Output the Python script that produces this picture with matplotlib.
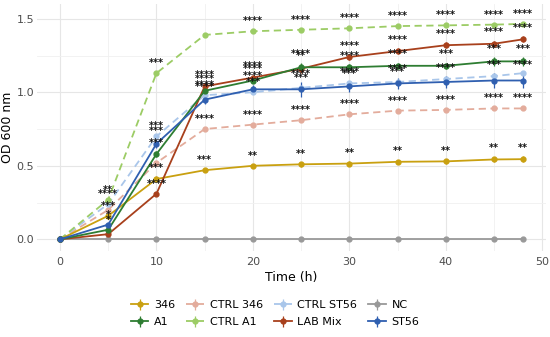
import matplotlib
matplotlib.use("Agg")
import matplotlib.pyplot as plt
import numpy as np

time = [0, 5, 10, 15, 20, 25, 30, 35, 40, 45, 48]

series_names = ["346", "A1", "CTRL 346", "CTRL A1", "CTRL ST56", "LAB Mix", "NC", "ST56"]

v_346 = [0.0, 0.16, 0.41, 0.47, 0.50, 0.51, 0.515, 0.527, 0.53, 0.543, 0.545]
v_A1 = [0.0, 0.065, 0.58, 1.01, 1.08, 1.17, 1.17, 1.18, 1.18, 1.21, 1.21]
v_ctrl346 = [0.0, 0.20, 0.52, 0.75, 0.78, 0.81, 0.85, 0.875, 0.88, 0.89, 0.89]
v_ctrlA1 = [0.0, 0.27, 1.13, 1.39, 1.415, 1.425, 1.435, 1.45, 1.455, 1.46, 1.465]
v_ctrlST56 = [0.0, 0.24, 0.70, 0.98, 1.00, 1.03, 1.06, 1.07, 1.09, 1.11, 1.13]
v_LAB = [0.0, 0.035, 0.31, 1.04, 1.10, 1.16, 1.24, 1.28, 1.32, 1.33, 1.36]
v_NC = [0.0] * 11
v_ST56 = [0.0, 0.10, 0.65, 0.95, 1.02, 1.02, 1.04, 1.06, 1.07, 1.08, 1.08]

e_346 = [0.0, 0.01, 0.02, 0.01, 0.01, 0.015, 0.015, 0.015, 0.015, 0.02, 0.02]
e_A1 = [0.0, 0.01, 0.02, 0.02, 0.02, 0.03, 0.02, 0.02, 0.02, 0.03, 0.03]
e_ctrl346 = [0.0, 0.01, 0.01, 0.01, 0.01, 0.01, 0.01, 0.01, 0.01, 0.01, 0.01]
e_ctrlA1 = [0.0, 0.01, 0.01, 0.01, 0.01, 0.01, 0.01, 0.01, 0.01, 0.01, 0.01]
e_ctrlST56 = [0.0, 0.01, 0.01, 0.01, 0.01, 0.01, 0.01, 0.01, 0.01, 0.01, 0.01]
e_LAB = [0.0, 0.01, 0.01, 0.02, 0.02, 0.03, 0.02, 0.02, 0.02, 0.02, 0.02]
e_NC = [0.0] * 11
e_ST56 = [0.0, 0.01, 0.03, 0.03, 0.03, 0.05, 0.04, 0.04, 0.04, 0.05, 0.05]

s_346 = ["", "***", "***", "***", "**", "**", "**", "**", "**", "**", "**"]
s_A1 = ["", "*", "***", "****", "****", "****", "****", "****", "***", "***", "***"]
s_ctrl346 = ["", "", "", "****", "****", "****", "****", "****", "****", "****", "****"]
s_ctrlA1 = ["", "**", "***", "", "****", "****", "****", "****", "****", "****", "****"]
s_ctrlST56 = ["", "****", "***", "****", "***", "***", "***", "***", "", "", ""]
s_LAB = ["", "", "****", "****", "****", "**", "****", "****", "****", "****", "****"]
s_NC = [""] * 11
s_ST56 = ["", "*", "***", "****", "****", "****", "****", "****", "****", "***", "****"]

values = {"346": v_346, "A1": v_A1, "CTRL 346": v_ctrl346, "CTRL A1": v_ctrlA1,
          "CTRL ST56": v_ctrlST56, "LAB Mix": v_LAB, "NC": v_NC, "ST56": v_ST56}
errors = {"346": e_346, "A1": e_A1, "CTRL 346": e_ctrl346, "CTRL A1": e_ctrlA1,
          "CTRL ST56": e_ctrlST56, "LAB Mix": e_LAB, "NC": e_NC, "ST56": e_ST56}
stars = {"346": s_346, "A1": s_A1, "CTRL 346": s_ctrl346, "CTRL A1": s_ctrlA1,
         "CTRL ST56": s_ctrlST56, "LAB Mix": s_LAB, "NC": s_NC, "ST56": s_ST56}
colors = {"346": "#C9A010", "A1": "#2E7D32", "CTRL 346": "#E3AC9C", "CTRL A1": "#9CCC65",
          "CTRL ST56": "#A9C6EA", "LAB Mix": "#A8401C", "NC": "#999999", "ST56": "#2F5FB0"}
dashed = {"CTRL 346", "CTRL A1", "CTRL ST56"}

fig = plt.figure(figsize=(5.5, 3.37), dpi=100)
ax = fig.add_axes([0.067, 0.255, 0.926, 0.733])

draw_order = ["NC", "CTRL 346", "CTRL ST56", "CTRL A1", "346", "LAB Mix", "A1", "ST56"]
handles = {}
for name in draw_order:
    ls = (0, (4, 2.5)) if name in dashed else "-"
    h = ax.errorbar(time, values[name], yerr=errors[name], color=colors[name],
                    linestyle=ls, linewidth=1.3, marker="o", markersize=3.5,
                    elinewidth=0.9, capsize=0, zorder=3)
    handles[name] = h
    for t, v, e, s in zip(time, values[name], errors[name], stars[name]):
        if s:
            ax.annotate(s, xy=(t, v + e), xytext=(0, 2.5), textcoords="offset points",
                        ha="center", va="bottom", fontsize=7, color="#111111",
                        fontweight="bold", zorder=5)

ax.set_xlim(-2.4, 50.4)
ax.set_ylim(-0.08, 1.6)
ax.set_xticks([0, 10, 20, 30, 40, 50])
ax.set_xticks([5, 15, 25, 35, 45], minor=True)
ax.set_yticks([0.0, 0.5, 1.0, 1.5])
ax.set_yticks([0.25, 0.75, 1.25], minor=True)
ax.set_yticklabels(["0.0", "0.5", "1.0", "1.5"])
ax.grid(which="major", color="#E6E6E6", linewidth=0.8)
ax.grid(which="minor", color="#F0F0F0", linewidth=0.6)
ax.set_axisbelow(True)
for sp in ax.spines.values():
    sp.set_visible(False)
ax.tick_params(which="both", length=0, labelsize=8, labelcolor="#4D4D4D")
ax.tick_params(axis="x", pad=4)
ax.tick_params(axis="y", pad=2)
ax.set_xlabel("Time (h)", fontsize=9, labelpad=3)
ax.set_ylabel("OD 600 nm", fontsize=9, labelpad=2)

leg_order = ["346", "A1", "CTRL 346", "CTRL A1", "CTRL ST56", "LAB Mix", "NC", "ST56"]
fig.legend([handles[n] for n in leg_order], leg_order, loc="lower center",
           bbox_to_anchor=(0.5, 0.0), ncol=4, frameon=False, fontsize=8,
           handlelength=1.6, columnspacing=1.0, handletextpad=0.5, labelspacing=0.6)

fig.savefig("out.png", dpi=100)
